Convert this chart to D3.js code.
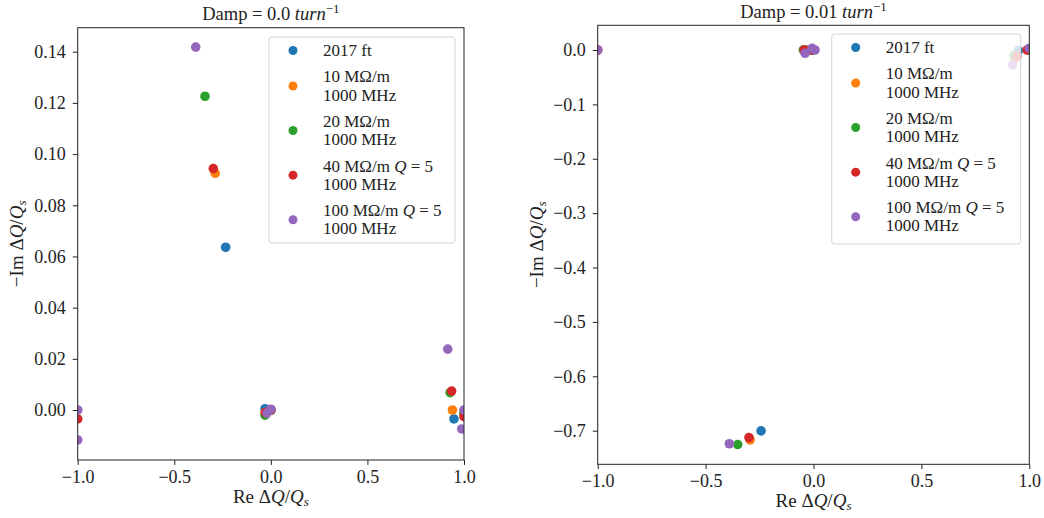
<!DOCTYPE html>
<html>
<head>
<meta charset="utf-8">
<script src="https://cdnjs.cloudflare.com/ajax/libs/d3/7.8.5/d3.min.js"></script>
<style>
  body { margin: 0; background: #fff; }
  text { font-family: "Liberation Serif", "DejaVu Serif", serif; fill: #222; }
</style>
</head>
<body>
<svg id="chart" width="1044" height="518"></svg>
<script>
// legend labels, $...$ marks italic parts
const seriesLabels = [
  ["2017 ft"],
  ["10 MΩ/m", "1000 MHz"],
  ["20 MΩ/m", "1000 MHz"],
  ["40 MΩ/m $Q$ = 5", "1000 MHz"],
  ["100 MΩ/m $Q$ = 5", "1000 MHz"]
];
const colors = ["#1f77b4", "#ff7f0e", "#2ca02c", "#d62728", "#9467bd"];

// Damp = 0.0 : Re and -Im of dQ/Qs for each series
const damp0Re = [
  [-0.234, -0.030, 0.000, 0.948, 1.000],
  [-0.288, -0.030, 0.000, 0.940, 1.000],
  [-0.341, -0.030, 0.000, 0.928, 1.000],
  [-0.298, -0.028, 0.000, 0.936, 1.000, -1.000],
  [-0.389, -0.020, 0.000, 0.916, 1.000, 0.988, -1.000, -1.000]
];
const damp0Im = [
  [0.0636, 0.0005, 0.0000, -0.0035, -0.0007],
  [0.0925, -0.0010, 0.0000, 0.0000, -0.0010],
  [0.1226, -0.0020, 0.0000, 0.0068, -0.0015],
  [0.0943, -0.0010, 0.0000, 0.0074, -0.0026, -0.0035],
  [0.1418, -0.0012, 0.0003, 0.0238, 0.0000, -0.0074, 0.0000, -0.0117]
];

// Damp = 0.01
const damp1Re = [
  [-0.243, -0.030, -0.010, 0.949, 1.000],
  [-0.294, -0.040, -0.010, 0.934, 1.000],
  [-0.351, -0.047, -0.005, 0.930, 1.000],
  [-0.299, -0.043, -0.005, 0.942, 0.990, -1.000],
  [-0.390, -0.039, -0.006, 0.007, 0.923, 1.000, -1.000]
];
const damp1Im = [
  [-0.7004, 0.000, 0.000, -0.001, 0.000],
  [-0.7170, 0.000, 0.000, -0.015, 0.000],
  [-0.7255, 0.000, 0.000, -0.010, 0.000],
  [-0.7127, 0.000, 0.000, -0.012, 0.000, 0.000],
  [-0.7240, -0.006, 0.003, 0.000, -0.028, 0.003, 0.000]
];

const xTicks = [-1.0, -0.5, 0.0, 0.5, 1.0];
const yTicks0 = [0.00, 0.02, 0.04, 0.06, 0.08, 0.10, 0.12, 0.14];
const yTicks1 = [0.0, -0.1, -0.2, -0.3, -0.4, -0.5, -0.6, -0.7];

const svg = d3.select("#chart");

// write a label with $italic$ parts into a text element
function richText(sel, str) {
  str.split("$").forEach((part, i) => {
    if (!part) return;
    sel.append("tspan").attr("font-style", i % 2 ? "italic" : "normal").text(part);
  });
}

// "Re ΔQ/Q_s" style label
function dqLabel(sel, prefix) {
  sel.append("tspan").text(prefix + " Δ");
  sel.append("tspan").attr("font-style", "italic").text("Q");
  sel.append("tspan").text("/");
  sel.append("tspan").attr("font-style", "italic").text("Q");
  sel.append("tspan").attr("font-style", "italic").attr("font-size", "13px").attr("dy", 3).text("s");
}

function drawPanel(p, idx) {
  const x = d3.scaleLinear().domain([-1, 1]).range([p.left, p.right]);
  const y = d3.scaleLinear().domain(p.yDomain).range([p.bottom, p.top]);

  const clipId = "clip" + idx;
  svg.append("clipPath").attr("id", clipId)
    .append("rect")
    .attr("x", p.left).attr("y", p.top)
    .attr("width", p.right - p.left).attr("height", p.bottom - p.top);

  // points, series in order so later ones sit on top
  const pts = svg.append("g").attr("clip-path", `url(#${clipId})`);
  p.re.forEach((reArr, s) => {
    pts.selectAll(null)
      .data(reArr.map((r, i) => [r, p.im[s][i]]))
      .enter()
      .append("circle")
      .attr("cx", d => x(d[0]))
      .attr("cy", d => y(d[1]))
      .attr("r", 4.8)
      .attr("fill", colors[s]);
  });

  // axes
  const gx = svg.append("g")
    .attr("transform", `translate(0,${p.bottom})`)
    .call(d3.axisBottom(x).tickValues(xTicks).tickFormat(d3.format(".1f")).tickSize(4.9).tickPadding(5));
  const gy = svg.append("g")
    .attr("transform", `translate(${p.left},0)`)
    .call(d3.axisLeft(y).tickValues(p.yTicks).tickFormat(d3.format(p.yFmt)).tickSize(4.9).tickPadding(7));
  [gx, gy].forEach(g => {
    g.select(".domain").remove();
    g.selectAll(".tick line").attr("stroke", "#222").attr("stroke-width", 1);
    g.selectAll(".tick text")
      .attr("font-family", '"Liberation Serif", serif')
      .attr("font-size", "18px")
      .attr("fill", "#222");
  });

  // frame
  svg.append("rect")
    .attr("x", p.left).attr("y", p.top)
    .attr("width", p.right - p.left).attr("height", p.bottom - p.top)
    .attr("fill", "none").attr("stroke", "#222").attr("stroke-width", 1);

  // title
  const t = svg.append("text")
    .attr("x", (p.left + p.right) / 2).attr("y", p.top - 7.5)
    .attr("text-anchor", "middle").attr("font-size", "18.5px");
  t.append("tspan").text(`Damp\u2005=\u2005${p.damp} `);
  t.append("tspan").attr("font-style", "italic").text("turn");
  t.append("tspan").attr("font-size", "13px").attr("dy", -7).text("−1");

  // axis labels
  const xl = svg.append("text")
    .attr("x", (p.left + p.right) / 2).attr("y", p.bottom + 43)
    .attr("text-anchor", "middle").attr("font-size", "19px");
  dqLabel(xl, "Re");
  const yl = svg.append("text")
    .attr("transform", `translate(${p.left - 55},${(p.top + p.bottom) / 2}) rotate(-90)`)
    .attr("text-anchor", "middle").attr("font-size", "19px");
  dqLabel(yl, "−Im");

  // legend
  const lg = svg.append("g");
  lg.append("rect")
    .attr("x", p.leg.x).attr("y", p.leg.y)
    .attr("width", p.leg.w).attr("height", p.leg.h)
    .attr("rx", 3)
    .attr("fill", "#fff").attr("fill-opacity", 0.8)
    .attr("stroke", "#d6d6d6").attr("stroke-width", 1);
  let yy = p.leg.y + 13.5;
  seriesLabels.forEach((lines, s) => {
    const my = yy + (lines.length - 1) * 9.15;
    lg.append("circle")
      .attr("cx", p.leg.x + 24).attr("cy", my).attr("r", 4.5)
      .attr("fill", colors[s]);
    lines.forEach((ln, k) => {
      const tx = lg.append("text")
        .attr("x", p.leg.x + 54)
        .attr("y", my + 5 - (lines.length - 1) * 8.6 + k * 18.3)
        .attr("font-size", "17px");
      richText(tx, ln);
    });
    yy += lines.length * 18.3 + 8;
  });
}

drawPanel({
  left: 77.7, right: 464, top: 27.7, bottom: 460,
  yDomain: [-0.01953, 0.14938], yTicks: yTicks0, yFmt: ".2f",
  re: damp0Re, im: damp0Im, damp: "0.0",
  leg: { x: 269, y: 37, w: 186, h: 206 }
}, 0);

drawPanel({
  left: 597.7, right: 1029.3, top: 25.3, bottom: 464.3,
  yDomain: [-0.7618, 0.0454], yTicks: yTicks1, yFmt: ".1f",
  re: damp1Re, im: damp1Im, damp: "0.01",
  leg: { x: 831.7, y: 34, w: 189, h: 210 }
}, 1);
</script>
</body>
</html>
